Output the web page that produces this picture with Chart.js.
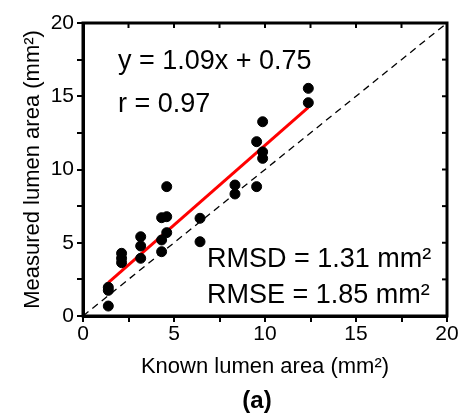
<!DOCTYPE html>
<html>
<head>
<meta charset="utf-8">
<script src="https://cdn.jsdelivr.net/npm/chart.js@4/dist/chart.umd.min.js"></script>
<style>
  body { margin: 0; background: #fff; }
  canvas { display: block; }
</style>
</head>
<body>
<canvas id="myChart" width="460" height="415"></canvas>
<script>
'use strict';

// known vs measured lumen area
const knownArea = [1.39, 1.39, 1.39, 2.12, 2.12, 2.12, 3.17, 3.17, 3.17,
  4.32, 4.32, 4.32, 4.6, 4.6, 4.6, 6.43, 6.43, 8.35, 8.35,
  9.54, 9.54, 9.87, 9.87, 9.87, 12.38, 12.38];
const measuredArea = [1.96, 1.75, 0.68, 4.28, 3.94, 3.64, 5.41, 4.78, 3.94,
  6.71, 5.19, 4.39, 8.83, 6.78, 5.69, 6.67, 5.07, 8.94, 8.33,
  11.9, 8.83, 13.26, 11.2, 10.76, 15.54, 14.56];

// fitted line y = 1.09x + 0.75, ends
const fitX = [1.39, 12.38];
const fitY = [2.27, 14.24];

// identity line
const idX = [0, 20];
const idY = [0, 20];

const axisTicks = [0, 5, 10, 15, 20];

const textLines = ['y = 1.09x + 0.75', 'r = 0.97', 'RMSD = 1.31 mm²', 'RMSE = 1.85 mm²'];

const FONT = '"Liberation Sans", Arial, sans-serif';

function toPoints(xs, ys){
  let pts = [];
  for(let i=0; i<xs.length; i++){
    pts.push({x: xs[i], y: ys[i]});
  }
  return pts;
}

const framePlugin = {
  id: 'frame',
  afterDraw(chart){
    const ctx = chart.ctx;
    const a = chart.chartArea;
    const xs = chart.scales.x;
    const ys = chart.scales.y;
    ctx.save();
    ctx.strokeStyle = '#000';
    ctx.lineWidth = 3;
    ctx.strokeRect(a.left, a.top, a.right - a.left, a.bottom - a.top);
    // inner ticks on the top and right sides
    ctx.lineWidth = 2;
    for(let v=0; v<=20; v+=2.5){
      const px = xs.getPixelForValue(v);
      ctx.beginPath();
      ctx.moveTo(px, a.top);
      ctx.lineTo(px, a.top + 5);
      ctx.stroke();
      const py = ys.getPixelForValue(v);
      ctx.beginPath();
      ctx.moveTo(a.right, py);
      ctx.lineTo(a.right - 5, py);
      ctx.stroke();
    }
    ctx.fillStyle = '#000';
    ctx.textBaseline = 'alphabetic';
    ctx.textAlign = 'left';
    ctx.font = '27px ' + FONT;
    ctx.fillText(textLines[0], a.left + 35, a.top + 46);
    ctx.fillText(textLines[1], a.left + 35, a.top + 89);
    ctx.fillText(textLines[2], a.left + 124, a.top + 244);
    ctx.fillText(textLines[3], a.left + 124, a.top + 280);
    ctx.textAlign = 'center';
    ctx.font = 'bold 24px ' + FONT;
    ctx.fillText('(a)', 257, 408);
    ctx.restore();
  }
};

function tickLabel(v){
  return axisTicks.includes(v) ? v : '';
}

let ctx = document.getElementById('myChart').getContext('2d');
let chart = new Chart(ctx, {
  type: 'scatter',
  data: {
    datasets: [{
      label: 'Measured',
      data: toPoints(knownArea, measuredArea),
      backgroundColor: '#000',
      borderColor: '#000',
      pointRadius: 5,
      order: 0
    }, {
      label: 'Fit',
      type: 'line',
      data: toPoints(fitX, fitY),
      borderColor: '#ff0000',
      borderWidth: 3,
      pointRadius: 0,
      fill: false,
      order: 1
    }, {
      label: 'y = x',
      type: 'line',
      data: toPoints(idX, idY),
      borderColor: '#000',
      borderWidth: 1.3,
      borderDash: [7, 5],
      pointRadius: 0,
      fill: false,
      order: 2
    }]
  },
  options: {
    responsive: false,
    animation: false,
    layout: {padding: {left: 0, top: 23, right: 13, bottom: 32}},
    plugins: {legend: {display: false}, tooltip: {enabled: false}},
    scales: {
      x: {
        type: 'linear', min: 0, max: 20,
        afterFit(scale){ scale.height = 67; },
        ticks: {stepSize: 2.5, autoSkip: false, maxRotation: 0, callback: tickLabel,
          color: '#000', padding: 0, font: {family: FONT, size: 21}},
        grid: {drawOnChartArea: false, tickLength: 6, color: '#000', lineWidth: 2},
        border: {width: 3, color: '#000'},
        title: {display: true, text: 'Known lumen area (mm²)', color: '#000',
          font: {family: FONT, size: 22}, padding: {top: 0, bottom: 3}}
      },
      y: {
        type: 'linear', min: 0, max: 20,
        afterFit(scale){ scale.width = 83; },
        ticks: {stepSize: 2.5, autoSkip: false, callback: tickLabel,
          color: '#000', padding: 3, font: {family: FONT, size: 21}},
        grid: {drawOnChartArea: false, tickLength: 6, color: '#000', lineWidth: 2},
        border: {width: 3, color: '#000'},
        title: {display: true, text: 'Measured lumen area (mm²)', color: '#000',
          font: {family: FONT, size: 22}, padding: {top: 20, bottom: 0}}
      }
    }
  },
  plugins: [framePlugin]
});
</script>
</body>
</html>
